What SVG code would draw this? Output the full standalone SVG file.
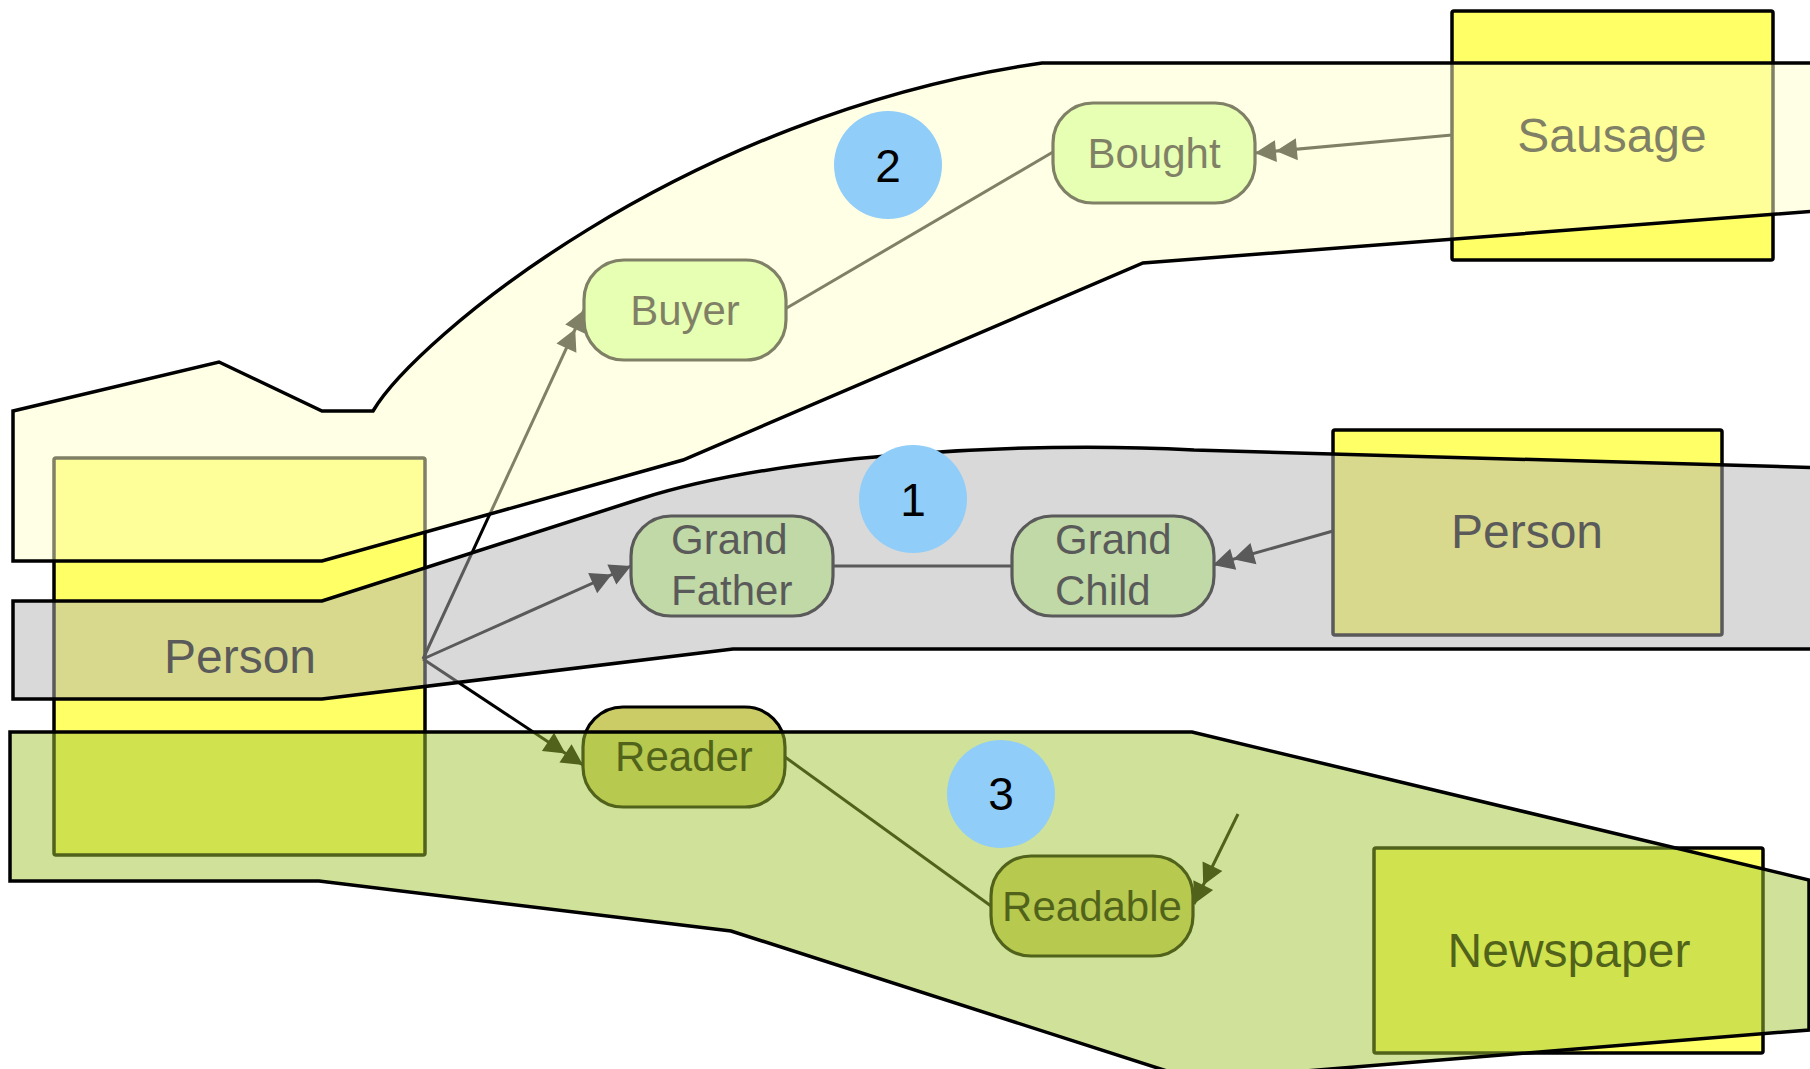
<svg xmlns="http://www.w3.org/2000/svg" width="1810" height="1069" viewBox="0 0 1810 1069">
  <defs>
    <style>
      .box { fill: #ffff66; stroke: #000; stroke-width: 3.5; }
      .node { fill: #ccff99; stroke: #000; stroke-width: 3.2; }
      .node-olive { fill: #cccc66; stroke: #000; stroke-width: 3.2; }
      .lbl { font-family: "Liberation Sans", Arial, sans-serif; fill: #000; }
      .big { font-size: 48px; text-anchor: middle; }
      .mid { font-size: 42px; text-anchor: middle; }
      .left { font-size: 42px; text-anchor: start; }
      .num { font-size: 46px; text-anchor: middle; }
      .edge { fill: none; stroke: #000; stroke-width: 3; }
      .arrow { marker-end: url(#dbl); }
      .band { stroke: #000; stroke-width: 3.5; stroke-linejoin: miter; }
      .badge { fill: #90cdf8; }
    </style>
    <marker id="dbl" markerUnits="userSpaceOnUse" markerWidth="42" markerHeight="22" refX="42" refY="11" orient="auto" overflow="visible">
      <path d="M0,0 L21,11 L0,22 Z M21,0 L42,11 L21,22 Z" fill="#000"/>
    </marker>
  </defs>

  <!-- base layer: class boxes -->
  <g id="person-left">
    <rect class="box" x="54" y="458" width="371" height="397" rx="2"/>
    <text class="lbl big" x="240" y="673">Person</text>
  </g>
  <g id="sausage">
    <rect class="box" x="1452" y="11" width="321" height="249" rx="2"/>
    <text class="lbl big" x="1612" y="152">Sausage</text>
  </g>
  <g id="person-right">
    <rect class="box" x="1333" y="430" width="389" height="205" rx="2"/>
    <text class="lbl big" x="1527" y="548">Person</text>
  </g>
  <g id="newspaper">
    <rect class="box" x="1374" y="848" width="389" height="205" rx="2"/>
    <text class="lbl big" x="1569" y="967">Newspaper</text>
  </g>

  <!-- connectors -->
  <g id="connectors">
    <path class="edge arrow" d="M423,659 L584,310"/>
    <path class="edge arrow" d="M423,659 L631,566"/>
    <path class="edge arrow" d="M423,659 L583,765"/>
    <path class="edge" d="M785,309 L1053,152"/>
    <path class="edge arrow" d="M1452,135 L1255,153"/>
    <path class="edge" d="M833,566 L1012,566"/>
    <path class="edge arrow" d="M1333,531 L1213,565"/>
    <path class="edge" d="M785,757 L991,906"/>
    <path class="edge arrow" d="M1238,814 L1194,904"/>
  </g>

  <!-- role nodes -->
  <g id="buyer">
    <rect class="node" x="584" y="260" width="202" height="100" rx="40"/>
    <text class="lbl mid" x="685" y="325">Buyer</text>
  </g>
  <g id="bought">
    <rect class="node" x="1053" y="103" width="202" height="100" rx="40"/>
    <text class="lbl mid" x="1154" y="168">Bought</text>
  </g>
  <g id="grand-father">
    <rect class="node" x="631" y="516" width="202" height="100" rx="40"/>
    <text class="lbl left" x="671" y="554">Grand</text>
    <text class="lbl left" x="671" y="605">Father</text>
  </g>
  <g id="grand-child">
    <rect class="node" x="1012" y="516" width="202" height="100" rx="40"/>
    <text class="lbl left" x="1055" y="554">Grand</text>
    <text class="lbl left" x="1055" y="605">Child</text>
  </g>
  <g id="reader">
    <rect class="node-olive" x="583" y="707" width="202" height="100" rx="40"/>
    <text class="lbl mid" x="684" y="771">Reader</text>
  </g>
  <g id="readable">
    <rect class="node-olive" x="991" y="856" width="202" height="100" rx="40"/>
    <text class="lbl mid" x="1092" y="921">Readable</text>
  </g>

  <!-- translucent fact-type bands drawn over the model -->
  <g id="band-2">
    <path class="band" fill="#ffffcc" fill-opacity="0.5" d="M13,411 L219,362 L322,411 L373,411 C415,340 680,115 1042,63 L1830,63 L1830,210 L1143,263 L683,460 L322,561 L13,561 Z"/>
  </g>
  <g id="band-1">
    <path class="band" fill="#b3b3b3" fill-opacity="0.5" d="M13,601 L322,601 L640,499 C790,451 1044,442 1194,450 L1830,468 L1830,649 L733,649 L322,699 L13,699 Z"/>
  </g>
  <g id="band-3">
    <path class="band" fill="#a1c535" fill-opacity="0.5" d="M10,732 L1192,732 L1809,880 L1809,1030 L1195,1080 L731,931 L319,881 L10,881 Z"/>
  </g>

  <!-- numbered badges -->
  <g id="badge-1">
    <circle class="badge" cx="913" cy="499" r="54"/>
    <text class="lbl num" x="913" y="516">1</text>
  </g>
  <g id="badge-2">
    <circle class="badge" cx="888" cy="165" r="54"/>
    <text class="lbl num" x="888" y="182">2</text>
  </g>
  <g id="badge-3">
    <circle class="badge" cx="1001" cy="794" r="54"/>
    <text class="lbl num" x="1001" y="810">3</text>
  </g>
</svg>
